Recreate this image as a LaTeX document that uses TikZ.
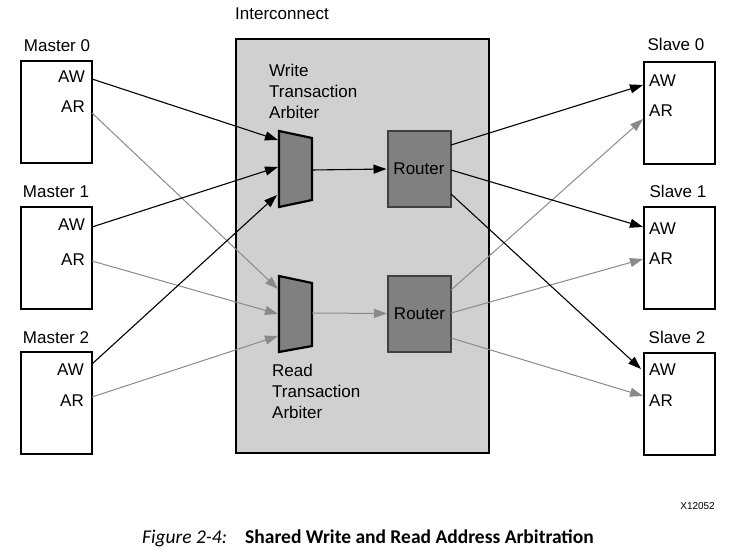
\documentclass[tikz,border=0pt]{standalone}
\usepackage{fontspec}
\setmainfont{Liberation Sans}
\newfontfamily\capfont{Carlito}
\usetikzlibrary{arrows.meta}
\definecolor{icfill}{HTML}{D0D0D0}
\definecolor{blkfill}{HTML}{808080}
\definecolor{rdline}{HTML}{8A8A8A}
\definecolor{rtborder}{HTML}{404040}
\begin{document}
\begin{tikzpicture}[x=1pt,y=-1pt,
  txt/.style={inner sep=0pt, font=\fontsize{17}{20}\selectfont},
  box/.style={draw=black, line width=2pt, fill=white, inner sep=0pt, minimum width=71pt, minimum height=102pt, anchor=north west},
  arb/.style={draw=black, line width=2.2pt, fill=blkfill, line join=miter},
  router/.style={draw=rtborder, line width=2pt, fill=blkfill, inner sep=0pt, minimum width=63pt, minimum height=76pt, font=\fontsize{17}{20}\selectfont},
  wr/.style={draw=black, line width=1.1pt, -{Triangle[length=13pt,width=9pt]}},
  rd/.style={draw=rdline, line width=1pt, -{Triangle[length=13pt,width=9pt]}},
  ]
\useasboundingbox (0,0) rectangle (735,548);

% interconnect
\node[draw=black, line width=2.2pt, fill=icfill, minimum width=253pt, minimum height=414pt, inner sep=0pt, anchor=north west] (ic) at (235,38) {};
\node[txt, anchor=base west] (icl) at (235,20) {Interconnect};

% masters
\node[box] (m0) at (20,60) {};
\node[box] (m1) at (20,206) {};
\node[box] (m2) at (20,351) {};
\node[txt, anchor=base] (m0l) at (57,52) {Master 0};
\node[txt, anchor=base] (m1l) at (56,197) {Master 1};
\node[txt, anchor=base] (m2l) at (56,343) {Master 2};
\node[txt, anchor=base east] (m0aw) at (85,83) {AW};
\node[txt, anchor=base east] (m0ar) at (85,113) {AR};
\node[txt, anchor=base east] (m1aw) at (85,230) {AW};
\node[txt, anchor=base east] (m1ar) at (85,265) {AR};
\node[txt, anchor=base east] (m2aw) at (84,375) {AW};
\node[txt, anchor=base east] (m2ar) at (84,406) {AR};

% slaves
\node[box] (s0) at (643,61) {};
\node[box] (s1) at (643,206) {};
\node[box] (s2) at (643,352) {};
\node[txt, anchor=base] (s0l) at (676,51) {Slave 0};
\node[txt, anchor=base] (s1l) at (678,197) {Slave 1};
\node[txt, anchor=base] (s2l) at (677,343) {Slave 2};
\node[txt, anchor=base west] (s0aw) at (649,87) {AW};
\node[txt, anchor=base west] (s0ar) at (649,117) {AR};
\node[txt, anchor=base west] (s1aw) at (649,234) {AW};
\node[txt, anchor=base west] (s1ar) at (649,264) {AR};
\node[txt, anchor=base west] (s2aw) at (649,375) {AW};
\node[txt, anchor=base west] (s2ar) at (649,406) {AR};

% arbiters
\draw[arb] (279,131) -- (312,138) -- (312,200) -- (279,207) -- cycle;
\draw[arb] (279,276) -- (312,283) -- (312,346) -- (279,352) -- cycle;
\node[txt, anchor=base west, align=left] (wal1) at (269,77) {Write};
\node[txt, anchor=base west] (wal2) at (269,98) {Transaction};
\node[txt, anchor=base west] (wal3) at (269,119) {Arbiter};
\node[txt, anchor=base west] (ral1) at (272,376) {Read};
\node[txt, anchor=base west] (ral2) at (272,397) {Transaction};
\node[txt, anchor=base west] (ral3) at (272,418) {Arbiter};

% routers
\node[router] (wrt) at (419,169) {Router};
\node[router] (rrt) at (419.5,313.5) {Router};

% port coordinates
\coordinate (pm0aw) at (92,79);
\coordinate (pm0ar) at (92,113);
\coordinate (pm1aw) at (92,227);
\coordinate (pm1ar) at (92,261);
\coordinate (pm2aw) at (92,364);
\coordinate (pm2ar) at (92,397);
\coordinate (wa1) at (278,140);
\coordinate (wa2) at (278,167);
\coordinate (wa3) at (277,195);
\coordinate (ra1) at (278,289);
\coordinate (ra2) at (278,314);
\coordinate (ra3) at (278,336);
\coordinate (wao) at (312,170);
\coordinate (rao) at (312,313);
\coordinate (wr1) at (451,145);
\coordinate (wr2) at (451,170);
\coordinate (wr3) at (451,194);
\coordinate (rr1) at (451,290);
\coordinate (rr2) at (451,313);
\coordinate (rr3) at (451,338);
\coordinate (ps0aw) at (643,85);
\coordinate (ps0ar) at (643,119);
\coordinate (ps1aw) at (643,227);
\coordinate (ps1ar) at (643,259);
\coordinate (ps2aw) at (641,369);
\coordinate (ps2ar) at (643,396);

% read connectors
\draw[rd] (pm0ar) -- (ra1);
\draw[rd] (pm1ar) -- (ra2);
\draw[rd] (pm2ar) -- (ra3);
\draw[rd] (rao) -- (rrt.west);
\draw[rd] (rr1) -- (ps0ar);
\draw[rd] (rr2) -- (ps1ar);
\draw[rd] (rr3) -- (ps2ar);

% write connectors
\draw[wr] (pm0aw) -- (wa1);
\draw[wr] (pm1aw) -- (wa2);
\draw[wr] (pm2aw) -- (wa3);
\draw[wr] (wao) -- (wrt.west);
\draw[wr] (wr1) -- (ps0aw);
\draw[wr] (wr2) -- (ps1aw);
\draw[wr] (wr3) -- (ps2aw);

% footer
\node[inner sep=0pt, anchor=base east, font=\fontsize{10}{12}\selectfont] (xid) at (715,509) {X12052};
\node[inner sep=0pt, anchor=base west, font=\capfont\fontsize{19.5}{22}\selectfont\itshape] (capa) at (142,543) {Figure 2-4:};
\node[inner sep=0pt, anchor=base west, font=\capfont\fontsize{19.5}{22}\selectfont\bfseries] (capb) at (245,543) {Shared Write and Read Address Arbitration};
\end{tikzpicture}
\end{document}
